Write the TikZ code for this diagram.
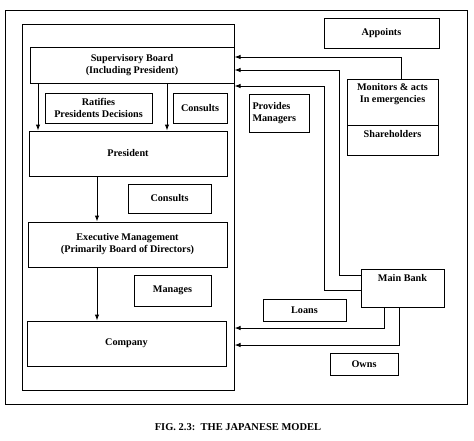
\documentclass[tikz,border=0pt]{standalone}
\usepackage{fontspec}
\setmainfont{Liberation Serif}
\usetikzlibrary{arrows.meta}
\begin{document}
\begin{tikzpicture}[x=1pt,y=-1pt,
  box/.style={draw, line width=1pt, inner sep=1pt, align=center, font=\fontsize{10.2}{12}\selectfont\bfseries},
  txt/.style={draw=none, inner sep=1pt, align=center, font=\fontsize{10.2}{12}\selectfont\bfseries},
  frame/.style={draw, line width=1pt, inner sep=0pt},
  arr/.style={line width=1pt, -{Latex[length=6pt,width=4.5pt]}}]
\useasboundingbox (0,0) rectangle (474,440);
% frames
\node[frame, minimum width=462pt, minimum height=394pt] (outer) at (236,207) {};
\node[frame, minimum width=212pt, minimum height=366pt] (inner) at (128,207) {};
% left column
\node[box, minimum width=204pt, minimum height=36pt] (sb) at (132,65) {Supervisory Board\\(Including President)};
\node[box, minimum width=107pt, minimum height=30pt] (rat) at (98.5,108) {Ratifies\\Presidents Decisions};
\node[box, minimum width=54pt, minimum height=30pt] (cons1) at (200,108) {Consults};
\node[box, minimum width=198pt, minimum height=45pt] (pres) at (128,153.5) {President};
\node[box, minimum width=83pt, minimum height=29pt] (cons2) at (169.5,198.5) {Consults};
\node[box, minimum width=199pt, minimum height=45pt] (exec) at (127.5,244.5) {Executive Management\\(Primarily Board of Directors)};
\node[box, minimum width=77pt, minimum height=31pt] (man) at (172.5,290.5) {Manages};
\node[box, minimum width=199pt, minimum height=45pt] (comp) at (126.5,343.5) {Company};
% right side
\node[box, minimum width=115pt, minimum height=30pt] (app) at (381.5,33) {Appoints};
\node[box, minimum width=91pt, minimum height=46pt] (mon) at (392.5,102) {};
\node[txt, anchor=north] (montext) at ([yshift=-4pt]mon.north) {Monitors \& acts\\In emergencies};
\node[box, minimum width=91pt, minimum height=30pt] (sh) at (392.5,140) {};
\node[txt, anchor=north] (shtext) at ([yshift=-5pt]sh.north) {Shareholders};
\node[box, minimum width=60pt, minimum height=38pt, align=left, text width=53pt] (prov) at (279,113) {Provides\\Managers};
\node[box, minimum width=83pt, minimum height=38pt] (mb) at (402.5,288) {};
\node[txt, anchor=north] (mbtext) at ([yshift=-5pt]mb.north) {Main Bank};
\node[box, minimum width=83pt, minimum height=22pt] (loans) at (304.5,310) {Loans};
\node[box, minimum width=68pt, minimum height=22pt] (owns) at (364,364) {Owns};
% caption
\node[font=\fontsize{10.5}{12}\selectfont\bfseries] (cap) at (238,427) {FIG. 2.3:\ \ THE JAPANESE MODEL};
% helper coordinates
\coordinate (ca) at (38,0);
\coordinate (cb) at (167,0);
\coordinate (cc) at (97,0);
\coordinate (c1) at (0,57);
\coordinate (c2) at (339,70);
\coordinate (c3) at (324,86);
\coordinate (c4) at (0,328);
\coordinate (c5) at (0,345);
% connectors
\draw[arr] (sb.south -| ca) -- (pres.north -| ca);
\draw[arr] (sb.south -| cb) -- (pres.north -| cb);
\draw[arr] (pres.south -| cc) -- (exec.north -| cc);
\draw[arr] (exec.south -| cc) -- (comp.north -| cc);
\draw[arr] ([xshift=8.5pt]mon.north) |- (inner.east |- c1);
\draw[arr] ([yshift=-7pt]mb.north west) -| (c2) -- (inner.east |- c2);
\draw[arr] ([yshift=-22pt]mb.north west) -| (c3) -- (inner.east |- c3);
\draw[arr] ([xshift=-18.5pt]mb.south) |- (inner.east |- c4);
\draw[arr] ([xshift=-3.5pt]mb.south) |- (inner.east |- c5);
\end{tikzpicture}
\end{document}
